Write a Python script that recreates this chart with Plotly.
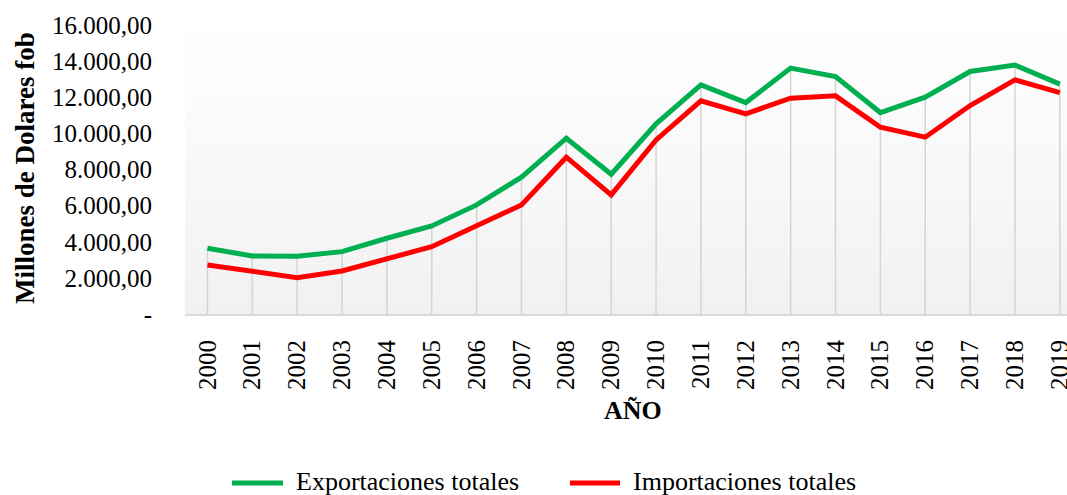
import plotly.graph_objects as go

years = [str(y) for y in range(2000, 2020)]
exportaciones = [3640, 3213, 3196, 3452, 4194, 4875, 6039, 7573, 9734, 7740,
                 10526, 12687, 11706, 13612, 13147, 11152, 12005, 13424, 13778, 12726]
importaciones = [2715, 2344, 2011, 2382, 3047, 3729, 4892, 6039, 8681, 6593,
                 9640, 11800, 11080, 11950, 12078, 10343, 9789, 11540, 12964, 12260]
y_tickvals = [0, 2000, 4000, 6000, 8000, 10000, 12000, 14000, 16000]
y_ticktext = ["-", "2.000,00", "4.000,00", "6.000,00", "8.000,00", "10.000,00",
              "12.000,00", "14.000,00", "16.000,00"]
series_names = ["Exportaciones totales", "Importaciones totales"]
series_colors = ["#00b050", "#ff0000"]

FONT = "Liberation Serif"
YMAX = 16000

W, H = 1067, 495
L, T, B = 185, 25, 181
PW, PH = W - L, H - T - B


def px_x(x):  # screenshot x -> paper x
    return (x - L) / PW


def px_y(y):  # screenshot y -> paper y
    return (H - B - y) / PH


fig = go.Figure()

shapes = []
# gradient background (white at top to light grey at bottom)
n = 40
for k in range(n):
    t = k / n
    c = int(round(241 + (255 - 241) * t))
    shapes.append(dict(type="rect", xref="paper", yref="paper", x0=0, x1=1,
                       y0=k / n, y1=(k + 1) / n, line=dict(width=0),
                       fillcolor=f"rgb({c},{c},{c})", layer="below"))
# drop lines from the higher series down to the axis
for i, (e, m) in enumerate(zip(exportaciones, importaciones)):
    shapes.append(dict(type="line", xref="x", yref="y", x0=i, x1=i, y0=0, y1=max(e, m),
                       line=dict(color="#d4d4d4", width=1.5), layer="below"))

for vals, name, col in zip([exportaciones, importaciones], series_names, series_colors):
    fig.add_trace(go.Scatter(x=list(range(len(years))), y=vals, mode="lines", name=name,
                             line=dict(color=col, width=5), showlegend=False))

# custom legend
annotations = []
leg_y = px_y(481)
for (x0, x1, tx), name, col in zip([(232, 283, 295), (570, 620, 632)], series_names, series_colors):
    shapes.append(dict(type="line", xref="paper", yref="paper", x0=px_x(x0), x1=px_x(x1),
                       y0=px_y(483), y1=px_y(483), line=dict(color=col, width=5)))
    annotations.append(dict(text=name, xref="paper", yref="paper", x=px_x(tx), y=leg_y,
                            xanchor="left", yanchor="middle", showarrow=False, borderpad=0,
                            font=dict(family=FONT, size=26)))

annotations += [
    dict(text="<b>AÑO</b>", xref="paper", yref="paper", x=px_x(633), y=px_y(410),
         xanchor="center", yanchor="middle", showarrow=False, font=dict(family=FONT, size=26)),
    dict(text="<b>Millones de Dolares fob</b>", xref="paper", yref="paper",
         x=px_x(25), y=px_y(168), xanchor="center", yanchor="middle",
         textangle=-90, showarrow=False, font=dict(family=FONT, size=27)),
]

fig.update_layout(
    width=W, height=H,
    margin=dict(l=L, r=0, t=T, b=B),
    paper_bgcolor="white", plot_bgcolor="rgba(0,0,0,0)",
    font=dict(family=FONT, size=26, color="#000000"),
    shapes=shapes, annotations=annotations,
    showlegend=False,
)
fig.update_xaxes(
    range=[-0.5, 19.16], tickmode="array", tickvals=list(range(len(years))), ticktext=years,
    tickangle=-90, showgrid=False, zeroline=False, showline=True, automargin=False,
    linecolor="#d9d9d9", linewidth=2, ticks="", ticklabelstandoff=14,
    ticklabeloverflow="allow",
    tickfont=dict(family=FONT, size=25),
)
fig.update_yaxes(
    range=[0, YMAX], tickmode="array", tickvals=y_tickvals, ticktext=y_ticktext,
    showgrid=False, zeroline=False, showline=False, ticks="", ticklabelstandoff=32,
    automargin=False,
    tickfont=dict(family=FONT, size=25),
)

fig.write_html(
    "out.html",
    config={"displayModeBar": False},
    post_script="document.body.style.margin='0';document.body.style.overflow='hidden';",
)
